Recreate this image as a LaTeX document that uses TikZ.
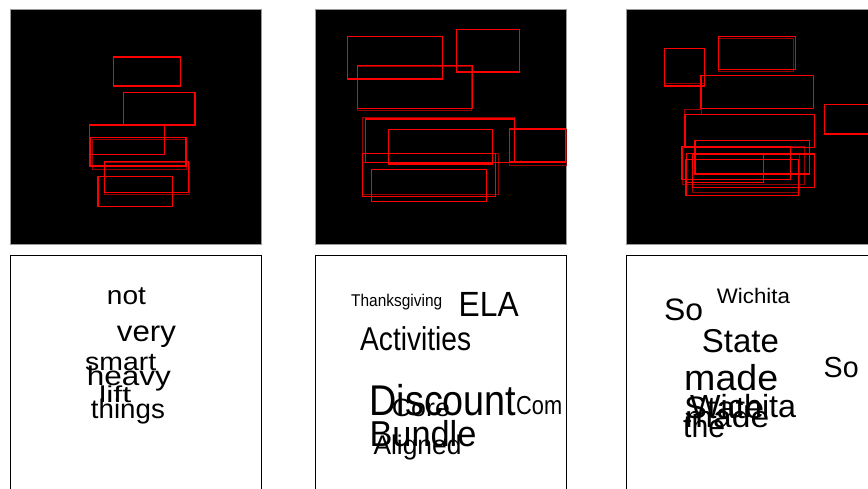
\documentclass[tikz,border=0pt]{standalone}
\usepackage{fontspec}
\setmainfont{Liberation Sans}
\definecolor{darkbox}{RGB}{150,0,0}
\newcommand\cloudword[3]{\resizebox{#1pt}{\height}{\fontsize{#2pt}{#2pt}\selectfont #3}}
\begin{document}
\begin{tikzpicture}[x=1pt,y=-1pt,every node/.style={inner sep=0pt,anchor=base west},
  wordbox/.style={red,line width=1.4pt},
  ghostbox/.style={darkbox,line width=1pt}]
\useasboundingbox (0,0) rectangle (868,489);
\clip (0,0) rectangle (868,489);
% black panels on top, white word boxes below
\foreach \px in {10,315,626} {
  \fill[black] (\px,9) rectangle (\px+251.5,244);
  \draw[black!40,line width=0.8pt] (\px,9) rectangle (\px+251.5,244);
  \draw[line width=1pt] (\px,256) rectangle (\px+251.5,500);
}
% darker duplicate boxes
\foreach \a/\b/\c/\d in {92.3/139.7/186.7/169.3, 104.3/163/189.5/194.3,
  357.3/67/471.7/111, 362.5/118/514.7/162.7, 509.7/130/566/165.3, 362.7/153.7/498.3/194.3,
  718.3/39/793.7/71.3, 664.7/48.7/704.7/83.3, 684.3/109.7/701/114.3, 682/146.3/804/184.3, 692.3/154/799/193}
  \draw[ghostbox] (\a,\b) rectangle (\c,\d);
% word boxes
\foreach \a/\b/\c/\d in {113.3/57/180.7/86, 123.3/92.7/195/125, 89.3/125/164.7/154.3,
  90/137.3/186/166, 104.3/161.7/188.7/192.7, 98/176.7/172.7/206.7,
  347.3/36.3/442.7/79, 456.3/29.3/519.3/72, 357.3/65.7/472.7/108.7, 365.3/119/514.7/162.7,
  388.3/129.7/492.3/164, 509.7/129/565.7/162, 362.7/153.7/495.7/196.7, 371.7/169.7/486.3/201.7,
  664.7/48.7/704.7/86, 718.3/36.3/795.7/69.3, 701/75.7/813.3/108.7, 824.3/104.7/880/134,
  685/114.3/814.7/147.3, 695/140.7/809.3/174, 682/146.3/790.3/179.3, 692.3/154/814.3/187.7,
  686/159.7/798.3/195.7, 686.7/153.7/763.3/182.3}
  \draw[wordbox] (\a,\b) rectangle (\c,\d);
% the words
\foreach \x/\y/\w/\s/\t [count=\i] in {106.7/305/39/26/not, 116.7/341.7/59/29/very,
  85/370/71/25/smart, 86.7/385/84/27/heavy, 99/402/32/23/lift, 90.7/418/74/27/things,
  351/307/91/17/Thanksgiving, 458.5/316.7/60/35/ELA, 360/350.7/111/33/Activities,
  369.3/415/147/43/Discount, 391.7/416.5/58/25/Core, 516/414/46/26/Com,
  369.3/446/107/36/Bundle, 373.3/454/88/27/Aligned,
  664/320.7/39/31/So, 716.7/303.3/73/21/Wichita, 701.7/352.3/77/33/State,
  823.5/377/35/29/So, 684/390/94/36/made, 690/417/106/32/Wichita,
  684/418/80/31/State, 685/427/84/30/made, 683/437/42/32/the}
  \node (word\i) at (\x,\y) {\cloudword{\w}{\s}{\t}};
\end{tikzpicture}
\end{document}
